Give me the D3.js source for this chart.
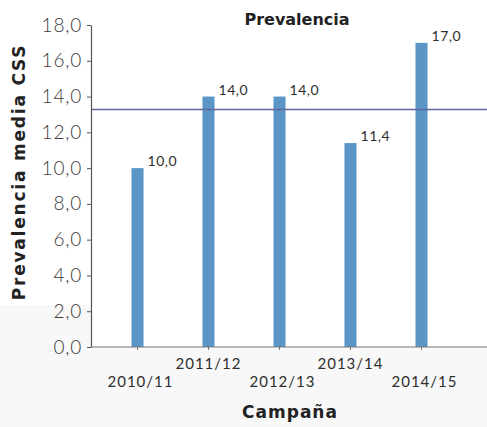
<!DOCTYPE html>
<html>
<head>
<meta charset="utf-8">
<script src="https://cdn.jsdelivr.net/npm/d3@7"></script>
<style>
  html, body { margin: 0; padding: 0; background: #ffffff; }
  svg { display: block; }
  text { font-family: Lato, "Open Sans", "DejaVu Sans", sans-serif; }
  .title { font-family: "DejaVu Sans", Lato, sans-serif; font-weight: 700; fill: #222; }
</style>
</head>
<body>
<svg id="chart" width="487" height="427"></svg>
<script>
// Campaigns and mean CSS prevalence per campaign
const campaigns = ["2010/11", "2011/12", "2012/13", "2013/14", "2014/15"];
const prevalence = [10.0, 14.0, 14.0, 11.4, 17.0];
const valueLabels = ["10,0", "14,0", "14,0", "11,4", "17,0"];
const yTicks = [0, 2, 4, 6, 8, 10, 12, 14, 16, 18];
const yTickLabels = ["0,0", "2,0", "4,0", "6,0", "8,0", "10,0", "12,0", "14,0", "16,0", "18,0"];
const meanValue = d3.mean(prevalence);

const svg = d3.select("#chart");
const W = 487, H = 427;
const axisX = 91, axisY = 347, topY = 25;

// faint grey margin behind the lower part of the chart
svg.append("rect").attr("x", 0).attr("y", 305).attr("width", W).attr("height", H - 305)
  .attr("fill", "#f8f8f8");
svg.append("rect").attr("x", axisX).attr("y", 0).attr("width", W - axisX).attr("height", axisY)
  .attr("fill", "#ffffff");

const x = d3.scaleBand().domain(campaigns).range([102, 457]).paddingInner(0.83).paddingOuter(0.415);
const y = d3.scaleLinear().domain([0, 18]).range([axisY, topY]);

// bars
svg.append("g").selectAll("rect").data(campaigns).join("rect")
  .attr("x", d => x(d))
  .attr("width", x.bandwidth())
  .attr("y", (d, i) => y(prevalence[i]))
  .attr("height", (d, i) => axisY - y(prevalence[i]))
  .attr("fill", "#5b96c6");

// mean line
svg.append("line")
  .attr("x1", axisX).attr("x2", W)
  .attr("y1", y(meanValue)).attr("y2", y(meanValue))
  .attr("stroke", "#5f66a0").attr("stroke-width", 1.6);

// y axis
const yAxis = d3.axisLeft(y).tickValues(yTicks)
  .tickFormat((d, i) => yTickLabels[i]).tickSize(4).tickSizeOuter(0).tickPadding(5);
const gy = svg.append("g").attr("transform", `translate(${axisX},0)`).call(yAxis);
gy.select(".domain").attr("stroke", "#555").attr("stroke-width", 1.2);
gy.selectAll(".tick line").attr("stroke", "#555");
gy.selectAll(".tick text").attr("fill", "#3a3a3a").attr("font-size", 19)
  .attr("font-weight", 300).attr("letter-spacing", 0.8);

// x axis line and ticks
svg.append("line").attr("x1", axisX).attr("x2", W).attr("y1", axisY).attr("y2", axisY)
  .attr("stroke", "#777").attr("stroke-width", 1.2);
const xAxis = d3.axisBottom(x).tickSize(3).tickSizeOuter(0).tickFormat("");
const gx = svg.append("g").attr("transform", `translate(0,${axisY})`).call(xAxis);
gx.select(".domain").remove();
gx.selectAll(".tick line").attr("stroke", "#777");

// staggered category labels
svg.append("g").selectAll("text").data(campaigns).join("text")
  .attr("x", (d, i) => x(d) + x.bandwidth() / 2 + (i % 2 === 0 ? 3 : 0))
  .attr("y", (d, i) => i % 2 === 0 ? 387 : 369)
  .attr("text-anchor", "middle")
  .attr("font-size", 15).attr("fill", "#2e2e2e").attr("letter-spacing", 1)
  .text(d => d);

// value labels
svg.append("g").selectAll("text").data(campaigns).join("text")
  .attr("x", d => x(d) + x.bandwidth() + 4)
  .attr("y", (d, i) => y(prevalence[i]) - 2)
  .attr("font-size", 14).attr("fill", "#2e2e2e").attr("letter-spacing", 0.5)
  .text((d, i) => valueLabels[i]);

// titles
svg.append("text").attr("class", "title").attr("x", 297).attr("y", 25).attr("text-anchor", "middle")
  .attr("font-size", 16)
  .text("Prevalencia");
svg.append("text").attr("class", "title").attr("x", 290).attr("y", 418).attr("text-anchor", "middle")
  .attr("font-size", 17).attr("letter-spacing", 1)
  .text("Campaña");
svg.append("text").attr("class", "title").attr("transform", "translate(25,172) rotate(-90)")
  .attr("text-anchor", "middle")
  .attr("font-size", 17).attr("letter-spacing", 1.8)
  .text("Prevalencia media CSS");
</script>
</body>
</html>
